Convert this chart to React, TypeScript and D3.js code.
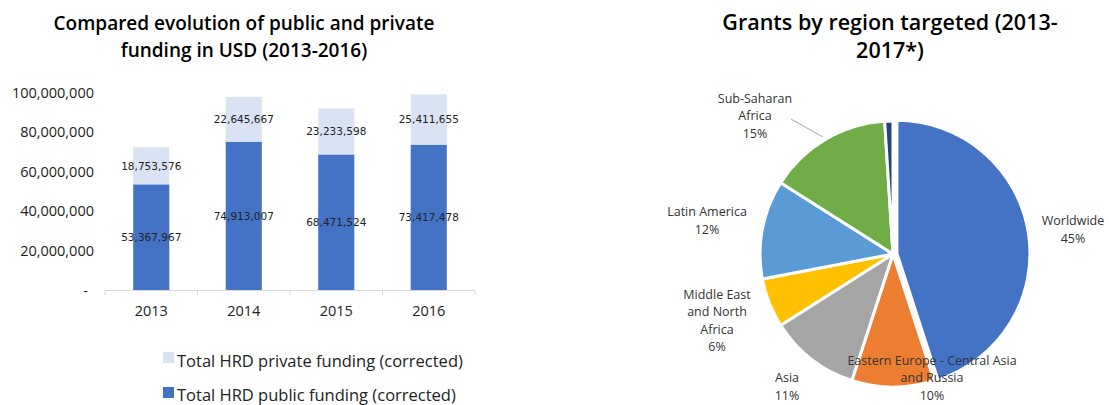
import React from "react";
import * as d3 from "d3";

const years = ["2013", "2014", "2015", "2016"];
const publicFunding = [53367967, 74913007, 68471524, 73417478];
const privateFunding = [18753576, 22645667, 23233598, 25411655];
const yTicks = [0, 20000000, 40000000, 60000000, 80000000, 100000000];

const regions = [
  "Worldwide",
  "Eastern Europe - Central Asia|and Russia",
  "Asia",
  "Middle East|and North|Africa",
  "Latin America",
  "Sub-Saharan|Africa",
  "Other",
];
const regionShares = [45, 10, 11, 6, 12, 15, 1];
const regionLabels = ["45%", "10%", "11%", "6%", "12%", "15%", ""];
const regionColors = ["#4472C4", "#ED7D31", "#A5A5A5", "#FFC000", "#5B9BD5", "#70AD47", "#264478"];
const regionExplode = [4, 0, 0, 0, 0, 0, 0];

const FONT = "'Open Sans', sans-serif";
const LABELFONT = "'DejaVu Sans', Verdana, sans-serif";

export default function App() {
  const x = d3.scaleBand().domain(years).range([105, 475]).paddingInner(0.61).paddingOuter(0.305);
  const y = d3.scaleLinear().domain([0, 100000000]).range([290, 92]);
  const fmt = d3.format(",");

  const pie = d3.pie<number>().sort(null).value((d) => d);
  const arcs = pie(regionShares);
  const R = 133;
  const arc = d3.arc<d3.PieArcDatum<number>>().innerRadius(0).outerRadius(R);
  const cx = 893, cy = 254;

  // label positions (manual placement like the reference, relative to pie centre)
  const labelPos: [number, number][] = [
    [180, -24],
    [39, 124],
    [-106, 133],
    [-176, 67],
    [-186, -33],
    [-138, -138],
    [0, 0],
  ];

  return (
    <svg width={1109} height={405} style={{ display: "block", position: "absolute", left: 0, top: 0, background: "#fff" }}>
      {/* Left chart title */}
      <text x={244} y={30} textAnchor="middle" fontFamily={FONT} fontWeight={600} fontSize={19} fill="#000">
        Compared evolution of public and private
      </text>
      <text x={244} y={57} textAnchor="middle" fontFamily={FONT} fontWeight={600} fontSize={19} fill="#000">
        funding in USD (2013-2016)
      </text>

      {/* y axis labels */}
      {yTicks.map((t) => (
        <text key={t} x={t === 0 ? 88 : 94} y={y(t) + 5.5} textAnchor="end" fontFamily={FONT} fontSize={14.5} fill="#222">
          {t === 0 ? "-" : fmt(t)}
        </text>
      ))}

      {/* bars */}
      {years.map((yr, i) => {
        const bx = x(yr)!;
        const bw = x.bandwidth();
        const p = publicFunding[i];
        const q = privateFunding[i];
        return (
          <g key={yr}>
            <rect x={bx} y={y(p)} width={bw} height={y(0) - y(p)} fill="#4472C4" />
            <rect x={bx} y={y(p + q)} width={bw} height={y(p) - y(p + q)} fill="#DAE3F3" />
            <text x={bx + bw / 2} y={y(p / 2) + 4} textAnchor="middle" fontFamily={LABELFONT} fontSize={10.5} fill="#222">
              {fmt(p)}
            </text>
            <text x={bx + bw / 2} y={y(p + q / 2) + 4} textAnchor="middle" fontFamily={LABELFONT} fontSize={10.5} fill="#222">
              {fmt(q)}
            </text>
          </g>
        );
      })}

      {/* x axis */}
      <line x1={105} x2={475} y1={290.5} y2={290.5} stroke="#D9D9D9" />
      {[0, 1, 2, 3, 4].map((k) => {
        const tx = 105 + (k * (475 - 105)) / 4;
        return <line key={k} x1={tx} x2={tx} y1={290} y2={295} stroke="#D9D9D9" />;
      })}
      {years.map((yr) => (
        <text key={yr} x={x(yr)! + x.bandwidth() / 2} y={316} textAnchor="middle" fontFamily={FONT} fontSize={14.5} fill="#222">
          {yr}
        </text>
      ))}

      {/* legend */}
      <rect x={163} y={352} width={11} height={11} fill="#DAE3F3" />
      <text x={177} y={367} fontFamily={FONT} fontSize={16.5} fill="#222">Total HRD private funding (corrected)</text>
      <rect x={163} y={387} width={11} height={11} fill="#4472C4" />
      <text x={177} y={401} fontFamily={FONT} fontSize={16.5} fill="#222">Total HRD public funding (corrected)</text>

      {/* Right chart title */}
      <text x={890} y={30} textAnchor="middle" fontFamily={FONT} fontWeight={600} fontSize={21.5} fill="#000">
        Grants by region targeted (2013-
      </text>
      <text x={890} y={58} textAnchor="middle" fontFamily={FONT} fontWeight={600} fontSize={21.5} fill="#000">
        2017*)
      </text>

      {/* pie */}
      <g transform={`translate(${cx},${cy})`}>
        {arcs.map((a, i) => {
          const mid = (a.startAngle + a.endAngle) / 2;
          const off = regionExplode[i];
          const tx = Math.sin(mid) * off;
          const ty = -Math.cos(mid) * off;
          return (
            <path
              key={i}
              d={arc(a)!}
              transform={`translate(${tx},${ty})`}
              fill={regionColors[i]}
              stroke="#fff"
              strokeWidth={3}
              strokeLinejoin="round"
            />
          );
        })}
      </g>

      {/* leader line for Sub-Saharan Africa */}
      <line x1={791} y1={119} x2={823} y2={137} stroke="#A6A6A6" strokeWidth={1} />

      {/* pie labels */}
      {arcs.map((a, i) => {
        if (!regionLabels[i]) return null;
        const lines = regions[i].split("|").concat([regionLabels[i]]);
        const [dx, dy] = labelPos[i];
        const lh = 17.5;
        const y0 = cy + dy - ((lines.length - 1) * lh) / 2;
        return (
          <text key={i} textAnchor="middle" fontFamily={FONT} fontSize={12.5} fill="#333">
            {lines.map((l, j) => (
              <tspan key={j} x={cx + dx} y={y0 + j * lh + 4}>
                {l}
              </tspan>
            ))}
          </text>
        );
      })}
    </svg>
  );
}
